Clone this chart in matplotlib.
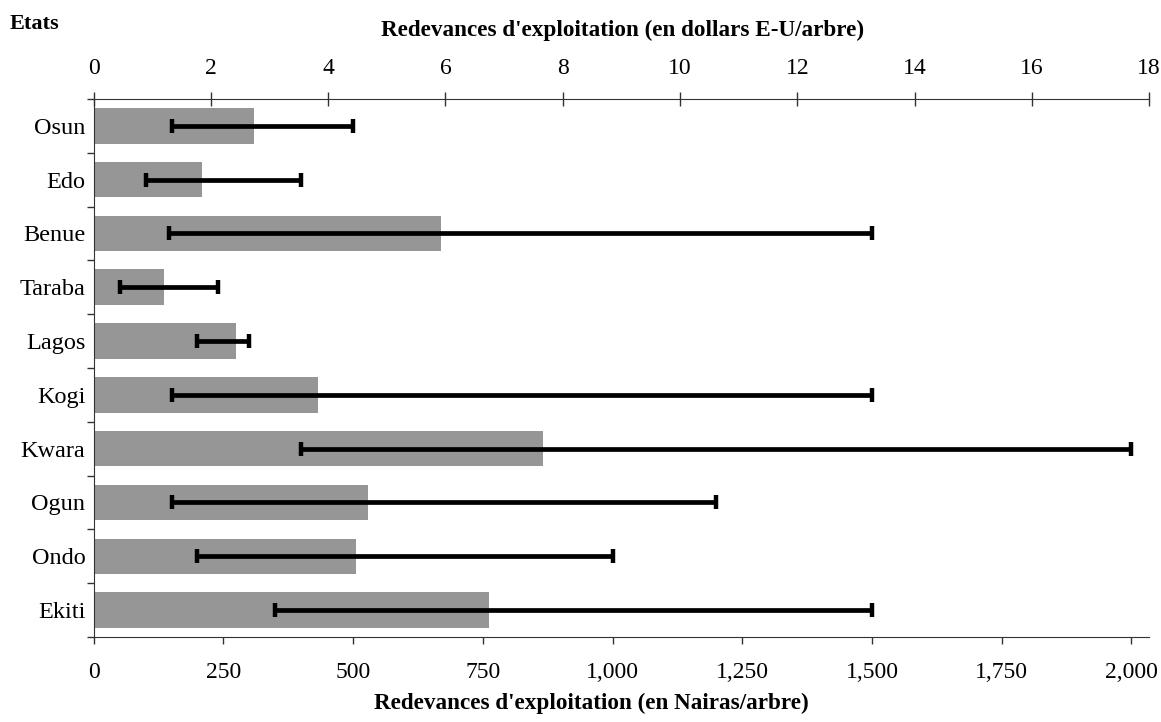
import numpy as np
import matplotlib
matplotlib.use('Agg')
import matplotlib.pyplot as plt

plt.rcParams['font.family'] = ['Liberation Serif', 'DejaVu Serif']

etats = ['Osun', 'Edo', 'Benue', 'Taraba', 'Lagos', 'Kogi', 'Kwara', 'Ogun', 'Ondo', 'Ekiti']
moyenne = [309, 208, 669, 135, 274, 432, 865, 528, 506, 761]   # Nairas/arbre
mini = [150, 100, 145, 50, 200, 150, 400, 150, 200, 350]
maxi = [500, 400, 1500, 240, 300, 1500, 2000, 1200, 1000, 1500]

naira_max = 2034
dollar_max = 18
taux = naira_max / dollar_max

fig = plt.figure(figsize=(11.61, 7.22), dpi=100)
ax = fig.add_axes([0.0807, 0.1177, 0.9090, 0.7453])

y = np.arange(len(etats))
moy = np.array(moyenne)
ax.barh(y, moy, height=0.66, color='#969696', zorder=1)
ax.errorbar(moy, y, xerr=[moy - np.array(mini), np.array(maxi) - moy], fmt='none',
            ecolor='black', elinewidth=3.4, capsize=4.7, capthick=3.2, zorder=2)

ax.set_xlim(0, naira_max)
ax.set_ylim(len(etats) - 0.5, -0.5)
ax.set_xticks(np.arange(0, 2001, 250))
ax.set_xticklabels(['{:,}'.format(v) for v in range(0, 2001, 250)])
ax.set_yticks(np.arange(-0.5, len(etats), 1))
ax.set_yticklabels([])
ax.set_yticks(y, minor=True)
ax.set_yticklabels(etats, minor=True)
ax.tick_params(axis='y', which='minor', length=0, pad=6, labelsize=17.5)
ax.tick_params(axis='y', which='major', direction='out', length=5, width=1, color='#333333')
ax.tick_params(axis='x', direction='out', length=5, width=1, pad=13, labelsize=17, color='#333333')
ax.spines['right'].set_visible(False)
ax.spines['top'].set_visible(False)
for s in ['left', 'bottom']:
    ax.spines[s].set_color('#333333')

top = ax.secondary_xaxis('top', functions=(lambda v: v / taux, lambda v: v * taux))
top.set_xticks(np.arange(0, 19, 2))
top.tick_params(direction='inout', length=10, width=1, pad=9, labelsize=17, color='#333333')
top.spines['top'].set_color('#333333')

fig.text(0.536, 0.958, "Redevances d'exploitation (en dollars E-U/arbre)", ha='center', va='center',
         fontsize=16.7, fontweight='bold')
fig.text(0.509, 0.026, "Redevances d'exploitation (en Nairas/arbre)", ha='center', va='center',
         fontsize=16.7, fontweight='bold')
fig.text(0.008, 0.967, 'Etats', ha='left', va='center', fontsize=16, fontweight='bold')

fig.savefig('out.png', dpi=100)
